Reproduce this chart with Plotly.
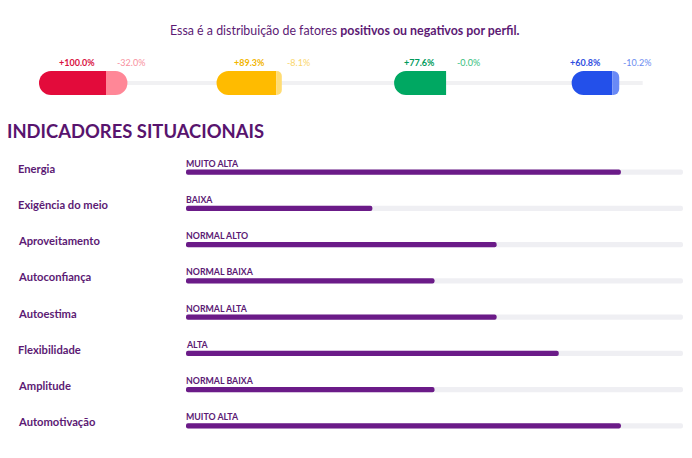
import plotly.graph_objects as go

# perfis (topo)
perfis_pos = [100.0, 89.3, 77.6, 60.8]
perfis_neg = [32.0, 8.1, 0.0, 10.2]
cores_pos = ["#e30b3b", "#ffbb00", "#00a862", "#2350ea"]
cores_neg = ["#ff8797", "#ffdc73", "#3cc585", "#6a8af6"]
texto_pos = ["#d9123f", "#f2b500", "#009a5b", "#2f4edf"]
texto_neg = ["#f8909e", "#fad66a", "#34c07c", "#6b8bf0"]
espaco = 265  # distancia entre perfis, em % da escala

# indicadores situacionais
indicadores = ["Energia", "Exigência do meio", "Aproveitamento", "Autoconfiança",
               "Autoestima", "Flexibilidade", "Amplitude", "Automotivação"]
niveis = ["MUITO ALTA", "BAIXA", "NORMAL ALTO", "NORMAL BAIXA",
          "NORMAL ALTA", "ALTA", "NORMAL BAIXA", "MUITO ALTA"]
valores = [7, 3, 5, 4, 5, 6, 4, 7]
escala_max = 8

ROXO = "#5c1a74"
ROXO_BARRA = "#6b1b88"
TRILHO = "#efeff3"
FONTE = "Lato"

W, H = 692, 458
PX = 0.67          # pixels por ponto percentual nos perfis
INICIO = 39        # borda esquerda do primeiro perfil, px
fig = go.Figure()

# linha cinza atras dos perfis
fig.add_trace(go.Bar(y=[0], x=[espaco * 3 + 106], base=[0], orientation="h", width=0.08,
                     marker=dict(color="#f1f1f3", line_width=0),
                     xaxis="x2", yaxis="y2", hoverinfo="skip", showlegend=False))

eixos_perfis = {}
offsets = [i * espaco for i in range(len(perfis_pos))]
for i in range(len(perfis_pos)):
    o = offsets[i]
    p = perfis_pos[i]
    n = perfis_neg[i]
    ex = f"x{i + 3}"
    # eixo invertido com zero na juncao positivo/negativo
    juncao = INICIO / PX + o + p
    eixos_perfis[f"xaxis{i + 3}"] = dict(range=[juncao, juncao - W / PX], overlaying="x2",
                                         anchor="y2", visible=False)
    fig.add_trace(go.Bar(y=[0], x=[p], orientation="h", width=0.5,
                         marker=dict(color=cores_pos[i], line_width=0, cornerradius=12),
                         xaxis=ex, yaxis="y2", showlegend=False))
    if n > 0:
        fig.add_trace(go.Bar(y=[0], x=[-n], orientation="h", width=0.5,
                             marker=dict(color=cores_neg[i], line_width=0, cornerradius=12),
                             xaxis=ex, yaxis="y2", showlegend=False))
    fig.add_annotation(x=0, y=0, xref=ex, yref="y2", text=f"<b>+{p:.1f}%</b>",
                       showarrow=False, xanchor="right", yanchor="middle", xshift=-9, yshift=21,
                       font=dict(family=FONTE, size=9, color=texto_pos[i]))
    fig.add_annotation(x=0, y=0, xref=ex, yref="y2", text=f"-{n:.1f}%",
                       showarrow=False, xanchor="left", yanchor="middle", xshift=9, yshift=21,
                       font=dict(family=FONTE, size=9, color=texto_neg[i]))

# trilhos e barras (base explicita arredonda os dois lados)
fig.add_trace(go.Bar(y=indicadores, x=[escala_max] * len(indicadores), base=[0] * len(indicadores),
                     orientation="h", width=0.14,
                     marker=dict(color=TRILHO, line_width=0, cornerradius=3), showlegend=False))
fig.add_trace(go.Bar(y=indicadores, x=valores, base=[0] * len(indicadores),
                     orientation="h", width=0.14,
                     marker=dict(color=ROXO_BARRA, line_width=0, cornerradius=3), showlegend=False))

for nome, nivel in zip(indicadores, niveis):
    fig.add_annotation(x=16 / W, y=nome, xref="paper", yref="y", text=f"<b>{nome}</b>",
                       showarrow=False, xanchor="left", yanchor="middle", yshift=4,
                       font=dict(family=FONTE, size=11.2, color=ROXO))
    fig.add_annotation(x=0, y=nome, xref="x", yref="y", text=f"<b>{nivel}</b>",
                       showarrow=False, xanchor="left", yanchor="middle", yshift=9, xshift=-2,
                       font=dict(family=FONTE, size=8.8, color=ROXO))

fig.add_annotation(x=345 / W, y=1 - 31 / H, xref="paper", yref="paper",
                   text="Essa é a distribuição de fatores <b>positivos ou negativos por perfil.</b>",
                   showarrow=False, xanchor="center", yanchor="middle",
                   font=dict(family=FONTE, size=12.4, color=ROXO))
fig.add_annotation(x=5 / W, y=1 - 131 / H, xref="paper", yref="paper",
                   text="<b>INDICADORES SITUACIONAIS</b>",
                   showarrow=False, xanchor="left", yanchor="middle",
                   font=dict(family=FONTE, size=18.4, color="#58146e"))

fig.update_layout(
    width=W, height=H, margin=dict(l=0, r=0, t=0, b=0),
    paper_bgcolor="white", plot_bgcolor="rgba(0,0,0,0)", barmode="overlay",
    showlegend=False,
    xaxis=dict(domain=[186 / W, 683 / W], range=[0, escala_max], visible=False, fixedrange=True),
    yaxis=dict(domain=[(H - 444) / H, (H - 154) / H], range=[7.5, -0.5],
               categoryorder="array", categoryarray=indicadores, visible=False),
    xaxis2=dict(domain=[0, 1], range=[-INICIO / PX, (W - INICIO) / PX], visible=False, anchor="y2"),
    yaxis2=dict(domain=[(H - 107) / H, (H - 59) / H], range=[-0.5, 0.5], visible=False, anchor="x2"),
    **eixos_perfis,
)

fig.write_html("out.html", config={"displayModeBar": False},
               post_script="document.body.style.margin='0px';")
